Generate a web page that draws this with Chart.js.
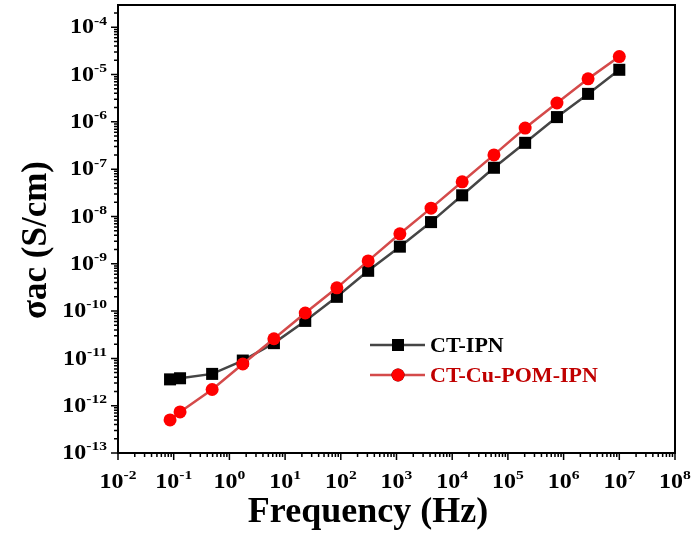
<!DOCTYPE html>
<html lang="en">
<head>
    <meta charset="UTF-8">
    <title>AC conductivity vs frequency</title>
    <script src="https://cdn.jsdelivr.net/npm/chart.js@4.4.0/dist/chart.umd.min.js"></script>
    <style>
        html, body { margin: 0; padding: 0; background: #fff; }
        #wrap { width: 691px; height: 540px; }
    </style>
</head>
<body>
    <div id="wrap"><canvas id="sigmaChart" width="691" height="540"></canvas></div>

    <script>
        // Data
        const frequency = [0.086, 0.13, 0.49, 1.74, 6.3, 23, 85, 310, 1150, 4170, 15100, 56200, 204000, 760000, 2750000, 10000000];
        const ctIpn = [3.6e-12, 3.8e-12, 4.7e-12, 9.0e-12, 2.1e-11, 6.2e-11, 2.0e-10, 7.1e-10, 2.3e-9, 7.6e-9, 2.8e-8, 1.07e-7, 3.6e-7, 1.26e-6, 3.9e-6, 1.26e-5];
        const ctCuPomIpn = [5.0e-13, 7.4e-13, 2.2e-12, 7.6e-12, 2.6e-11, 9.1e-11, 3.1e-10, 1.15e-9, 4.3e-9, 1.5e-8, 5.4e-8, 2.0e-7, 7.4e-7, 2.5e-6, 8.1e-6, 2.4e-5];
        const seriesNames = ['CT-IPN', 'CT-Cu-POM-IPN'];

        // Axis decades and tick labels
        const xExponents = [-2, -1, 0, 1, 2, 3, 4, 5, 6, 7, 8];
        const yExponents = [-13, -12, -11, -10, -9, -8, -7, -6, -5, -4];
        const xTitle = 'Frequency (Hz)';
        const yTitle = 'σac (S/cm)';

        const FONT = "'Liberation Serif', 'Times New Roman', serif";
        const STRETCH = 1.2; // tick labels in the figure are a bit wide

        function toPoints(xs, ys) {
            return xs.map((x, i) => ({ x: x, y: ys[i] }));
        }

        // draws the frame, outward ticks, 10^n labels, titles and the legend
        const axesDecor = {
            id: 'axesDecor',
            afterDraw(chart) {
                const ctx = chart.ctx;
                const area = chart.chartArea;
                const xs = chart.scales.x;
                const ys = chart.scales.y;
                ctx.save();

                // frame
                ctx.strokeStyle = '#000';
                ctx.lineWidth = 2;
                ctx.strokeRect(area.left, area.top, area.right - area.left, area.bottom - area.top);

                // ticks
                ctx.lineWidth = 1.5;
                ctx.beginPath();
                for (let e = -2; e < 8; e++) {
                    for (let m = 1; m <= 9; m++) {
                        const px = xs.getPixelForValue(m * Math.pow(10, e));
                        const len = m === 1 ? 7 : 4;
                        ctx.moveTo(px, area.bottom);
                        ctx.lineTo(px, area.bottom + len);
                    }
                }
                const px8 = xs.getPixelForValue(1e8);
                ctx.moveTo(px8, area.bottom);
                ctx.lineTo(px8, area.bottom + 7);
                for (let e = -13; e <= -4; e++) {
                    for (let m = 1; m <= 9; m++) {
                        const v = m * Math.pow(10, e);
                        if (v > ys.max) continue;
                        const py = ys.getPixelForValue(v);
                        const len = m === 1 ? 7 : 4;
                        ctx.moveTo(area.left, py);
                        ctx.lineTo(area.left - len, py);
                    }
                }
                ctx.stroke();

                // tick labels
                ctx.fillStyle = '#000';
                ctx.textBaseline = 'middle';
                const baseFont = 'bold 20px ' + FONT;
                const supFont = 'bold 13px ' + FONT;
                function labelWidths(exp) {
                    ctx.font = baseFont;
                    const w1 = ctx.measureText('10').width * STRETCH;
                    ctx.font = supFont;
                    const w2 = ctx.measureText(String(exp)).width * STRETCH;
                    return [w1, w2];
                }
                function drawLabel(exp, left, cy) {
                    const w = labelWidths(exp);
                    ctx.save();
                    ctx.translate(left, cy);
                    ctx.scale(STRETCH, 1);
                    ctx.textAlign = 'left';
                    ctx.font = baseFont;
                    ctx.fillText('10', 0, 0);
                    ctx.font = supFont;
                    ctx.fillText(String(exp), w[0] / STRETCH, -7);
                    ctx.restore();
                }
                xExponents.forEach(exp => {
                    const px = xs.getPixelForValue(Math.pow(10, exp));
                    const w = labelWidths(exp);
                    drawLabel(exp, px - (w[0] + w[1]) / 2, area.bottom + 30);
                });
                yExponents.forEach(exp => {
                    const py = ys.getPixelForValue(Math.pow(10, exp));
                    const w = labelWidths(exp);
                    drawLabel(exp, area.left - 11 - w[0] - w[1], py + 1);
                });

                // axis titles
                ctx.font = 'bold 36px ' + FONT;
                ctx.textAlign = 'center';
                ctx.textBaseline = 'alphabetic';
                ctx.fillText(xTitle, 368, 522);
                ctx.save();
                ctx.translate(46, 240);
                ctx.rotate(-Math.PI / 2);
                ctx.font = 'bold 35px ' + FONT;
                ctx.fillText(yTitle, 0, 0);
                ctx.restore();

                // legend
                const rows = [
                    { ds: chart.data.datasets[0], y: 345, text: '#000' },
                    { ds: chart.data.datasets[1], y: 375, text: '#c00000' }
                ];
                rows.forEach(r => {
                    ctx.strokeStyle = r.ds.borderColor;
                    ctx.lineWidth = r.ds.borderWidth;
                    ctx.beginPath();
                    ctx.moveTo(370, r.y);
                    ctx.lineTo(425, r.y);
                    ctx.stroke();
                    Chart.helpers.drawPoint(ctx, {
                        pointStyle: r.ds.pointStyle,
                        radius: r.ds.pointRadius,
                        borderWidth: 0,
                        rotation: 0
                    }, 398, r.y);
                    ctx.fillStyle = r.ds.pointBackgroundColor;
                    ctx.fill();
                    ctx.fillStyle = r.text;
                    ctx.font = 'bold 22px ' + FONT;
                    ctx.textAlign = 'left';
                    ctx.textBaseline = 'middle';
                    ctx.fillText(r.ds.label, 430, r.y + 1);
                });

                ctx.restore();
            }
        };

        new Chart(document.getElementById('sigmaChart'), {
            type: 'line',
            data: {
                datasets: [{
                    label: seriesNames[0],
                    data: toPoints(frequency, ctIpn),
                    borderColor: '#454545',
                    borderWidth: 2.5,
                    pointStyle: 'rect',
                    pointRadius: 8.5,
                    pointBackgroundColor: '#000',
                    pointBorderWidth: 0,
                    tension: 0,
                    order: 1
                }, {
                    label: seriesNames[1],
                    data: toPoints(frequency, ctCuPomIpn),
                    borderColor: '#d44a4a',
                    borderWidth: 2.5,
                    pointStyle: 'circle',
                    pointRadius: 6.5,
                    pointBackgroundColor: '#ff0000',
                    pointBorderWidth: 0,
                    tension: 0,
                    order: 0
                }]
            },
            options: {
                responsive: false,
                animation: false,
                layout: {
                    autoPadding: false,
                    padding: { left: 118, top: 5, right: 16, bottom: 87 }
                },
                plugins: {
                    legend: { display: false },
                    tooltip: { enabled: false }
                },
                scales: {
                    x: {
                        type: 'logarithmic',
                        min: 1e-2,
                        max: 1e8,
                        ticks: { display: false },
                        grid: { display: false, drawTicks: false },
                        border: { display: false }
                    },
                    y: {
                        type: 'logarithmic',
                        min: 1e-13,
                        max: 2.95e-4,
                        ticks: { display: false },
                        grid: { display: false, drawTicks: false },
                        border: { display: false }
                    }
                }
            },
            plugins: [axesDecor]
        });
    </script>
</body>
</html>
